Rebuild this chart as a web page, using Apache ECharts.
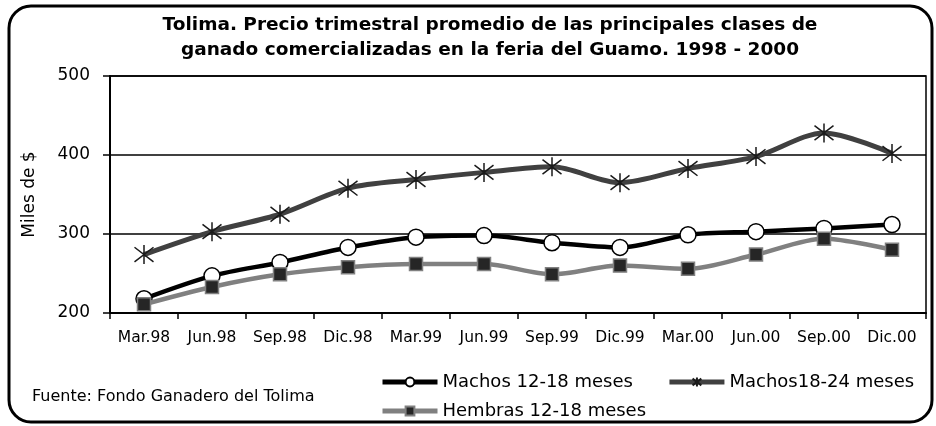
<!DOCTYPE html>
<html>
<head>
<meta charset="utf-8">
<script src="https://cdn.jsdelivr.net/npm/echarts@6/dist/echarts.min.js"></script>
<style>
  html, body { margin: 0; padding: 0; background: #fff; }
  #chart { width: 936px; height: 426px; }
</style>
</head>
<body>
<div id="chart"></div>
<script>
const trimestres = ['Mar.98', 'Jun.98', 'Sep.98', 'Dic.98', 'Mar.99', 'Jun.99',
                    'Sep.99', 'Dic.99', 'Mar.00', 'Jun.00', 'Sep.00', 'Dic.00'];
const machos1218 = [218, 247, 264, 283, 296, 298, 289, 283, 299, 303, 307, 312];
const machos1824 = [274, 303, 325, 358, 369, 378, 385, 365, 383, 398, 428, 402];
const hembras1218 = [211, 233, 249, 258, 262, 262, 249, 260, 256, 274, 294, 280];
const yTicks = [200, 300, 400, 500];

const FONT = 'DejaVu Sans';
// asterisco tipo Excel
const STAR = 'path://M0,0L20,20M20,0L0,20M10,-3L10,23';

const chart = echarts.init(document.getElementById('chart'));

const legendBase = {
    left: 380,
    padding: 0,
    itemWidth: 55,
    itemHeight: 11,
    itemGap: 34,
    lineStyle: { width: 5 },
    textStyle: { fontFamily: FONT, fontSize: 18, color: '#000' }
};

const option = {
    backgroundColor: '#fff',
    animation: false,
    textStyle: { fontFamily: FONT, color: '#000' },
    title: {
        text: 'Tolima. Precio trimestral promedio de las principales clases de\nganado comercializadas en la feria del Guamo. 1998 - 2000',
        left: 485,
        top: 8,
        textAlign: 'center',
        textStyle: {
            fontFamily: FONT,
            fontWeight: 'bold',
            fontSize: 18.5,
            lineHeight: 25,
            color: '#000'
        }
    },
    grid: {
        left: 110,
        right: 10,
        top: 76,
        bottom: 113,
        show: true,
        borderColor: '#000',
        borderWidth: 1.5
    },
    legend: [
        Object.assign({}, legendBase, {
            data: ['Machos 12-18 meses', 'Machos18-24 meses'],
            top: 373
        }),
        Object.assign({}, legendBase, {
            data: ['Hembras 12-18 meses'],
            top: 402
        })
    ],
    xAxis: {
        type: 'category',
        data: trimestres,
        boundaryGap: true,
        axisLine: { lineStyle: { color: '#000', width: 2 } },
        axisTick: { show: true, interval: 0, inside: false, length: 6, lineStyle: { color: '#000', width: 1.5 } },
        axisLabel: { interval: 0, fontFamily: FONT, fontSize: 15.5, color: '#000', margin: 17 },
        splitLine: { show: false }
    },
    yAxis: {
        type: 'value',
        min: yTicks[0],
        max: yTicks[yTicks.length - 1],
        interval: 100,
        name: 'Miles de $',
        nameLocation: 'middle',
        nameRotate: 90,
        nameGap: 72,
        nameTextStyle: { fontFamily: FONT, fontSize: 17, color: '#000' },
        axisLine: { show: true, lineStyle: { color: '#000', width: 2 } },
        axisTick: { show: true, length: 7, lineStyle: { color: '#000', width: 1.5 } },
        axisLabel: { fontFamily: FONT, fontSize: 17, color: '#000', margin: 20 },
        splitLine: { show: true, lineStyle: { color: '#000', width: 1.5 } }
    },
    series: [
        {
            name: 'Machos 12-18 meses',
            type: 'line',
            data: machos1218,
            smooth: 0.3,
            symbol: 'circle',
            symbolSize: 16,
            lineStyle: { color: '#000', width: 4.5 },
            itemStyle: { color: '#fff', borderColor: '#000', borderWidth: 1.5 },
            z: 2
        },
        {
            name: 'Machos18-24 meses',
            type: 'line',
            data: machos1824,
            smooth: 0.3,
            symbol: STAR,
            symbolSize: 19,
            lineStyle: { color: '#404040', width: 5 },
            itemStyle: { color: '#1a1a1a', borderColor: '#1a1a1a', borderWidth: 1.5 },
            z: 3
        },
        {
            name: 'Hembras 12-18 meses',
            type: 'line',
            data: hembras1218,
            smooth: 0.3,
            symbol: 'rect',
            symbolSize: 13,
            lineStyle: { color: '#808080', width: 4.5 },
            itemStyle: { color: '#262626', borderColor: '#808080', borderWidth: 1.5 },
            z: 4
        }
    ],
    graphic: [
        {
            type: 'rect',
            shape: { x: 9, y: 6, width: 923, height: 416, r: 22 },
            style: { fill: null, stroke: '#000', lineWidth: 3 },
            silent: true,
            z: 100
        },
        {
            type: 'text',
            left: 32,
            top: 389,
            style: {
                text: 'Fuente: Fondo Ganadero del Tolima',
                fontFamily: FONT,
                fontSize: 16,
                fill: '#000'
            }
        }
    ]
};

chart.setOption(option);
</script>
</body>
</html>
